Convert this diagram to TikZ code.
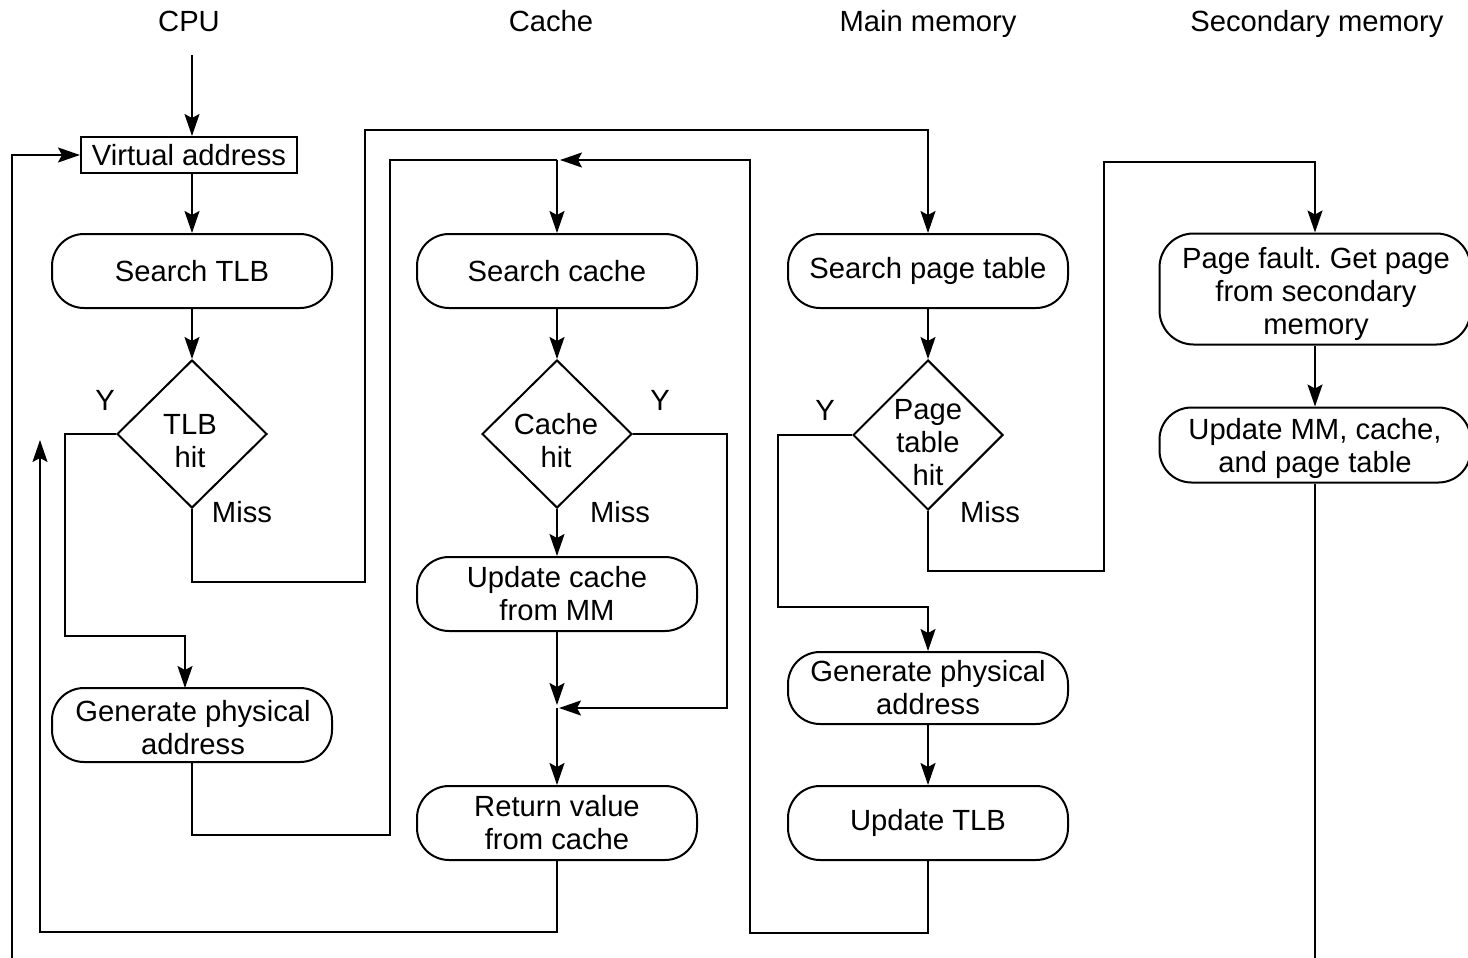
\documentclass[tikz,border=0pt]{standalone}
\usepackage{fontspec}
\setmainfont{Liberation Sans}
\usetikzlibrary{shapes.geometric,arrows.meta}
\frenchspacing
\begin{document}
\begin{tikzpicture}[x=0.5pt,y=-0.5pt,
  every node/.style={font=\fontsize{14.6}{16.5}\selectfont},
  line/.style={line width=1pt},
  arr/.style={line width=1pt,-{Stealth[length=11pt,width=7.5pt,inset=2pt]}},
  pill/.style={draw,line width=1pt,rounded corners=16pt,align=center,inner sep=0pt,minimum width=140pt,minimum height=37pt},
  dec/.style={draw,line width=1pt,diamond,inner sep=0pt,minimum width=75pt,minimum height=74pt},
  dtext/.style={align=center,inner sep=0pt},
  lbl/.style={inner sep=0pt},
  head/.style={inner sep=0pt,anchor=base}
]
\useasboundingbox (0,0) rectangle (1468,958);
% headers
\node[head] (hcpu) at (189,32) {CPU};
\node[head] (hcache) at (551,32) {Cache};
\node[head] (hmm) at (928,32) {Main memory};
\node[head] (hsec) at (1317,32) {Secondary memory};
% CPU column
\node[draw,line width=1pt,inner sep=0pt,minimum width=108pt,minimum height=18pt] (va) at (189,155) {Virtual address};
\node[pill] (stlb) at (192,271) {Search TLB};
\node[dec] (tlbhit) at (192,434) {};
\node[dtext] (tlbhitt) at (190,441) {TLB\\hit};
\node[pill] (gpa1) at (192,725) {};
\node[dtext] (gpa1t) at (193,728) {Generate physical\\address};
% Cache column
\node[pill] (scache) at (557,271) {Search cache};
\node[dec] (chit) at (557,434) {};
\node[dtext] (chitt) at (556,441) {Cache\\hit};
\node[pill] (ucache) at (557,594) {Update cache\\from MM};
\node[pill] (rval) at (557,823) {Return value\\from cache};
% Main memory column
\node[pill] (spt) at (928,271) {Search page table};
\node[dec,minimum height=75pt] (pthit) at (928,435) {};
\node[dtext] (pthitt) at (928,443) {Page\\table\\hit};
\node[pill,minimum height=36pt] (gpa2) at (928,688) {Generate physical\\address};
\node[pill] (utlb) at (928,823) {Update TLB};
% Secondary memory column
\node[pill,minimum width=155.5pt,minimum height=55.5pt,rounded corners=17pt] (pf) at (1315,289) {};
\node[dtext] (pft) at (1316,294) {Page fault. Get page\\from secondary\\memory};
\node[pill,minimum width=155.5pt,minimum height=37.5pt] (umm) at (1315,445) {};
\node[dtext] (ummt) at (1315,448.5) {Update MM, cache,\\and page table};
% labels
\node[lbl] (y1) at (105,400) {Y};
\node[lbl] (m1) at (242,512) {Miss};
\node[lbl] (y2) at (660,400) {Y};
\node[lbl] (m2) at (620,512) {Miss};
\node[lbl] (y3) at (825,410) {Y};
\node[lbl] (m3) at (990,512) {Miss};
% coordinates
\coordinate (cpustart) at (192,55);
\coordinate (lb) at (12,958);
\coordinate (rb) at (1315,958);
\coordinate (cj) at (557,160);
\coordinate (cjin) at (560,160);
\coordinate (cm) at (557,708);
\coordinate (cmin) at (559,708);
\coordinate (cmtop) at (557,705);
\coordinate (ret) at (40,440);
\coordinate (g1in) at (185,688);
% connectors
\draw[arr] (cpustart) -- (va.north -| cpustart);
\draw[arr] (lb) |- (va.west);
\draw[arr] (va.south -| stlb) -- (stlb.north);
\draw[arr] (stlb.south) -- (tlbhit.north);
\draw[arr] (tlbhit.west) -| (65,636) -| (g1in);
\draw[arr] (tlbhit.south) |- (365,582) -- (365,130) -| (spt.north);
\draw[line] (gpa1.south) |- (390,835) -- (390,160) -- (cj);
\draw[arr] (cj) -- (scache.north);
\draw[arr] (utlb.south) |- (750,933) |- (cjin);
\draw[arr] (scache.south) -- (chit.north);
\draw[arr] (chit.south) -- (ucache.north);
\draw[arr] (chit.east) -| (727,708) -- (cmin);
\draw[arr] (ucache.south) -- (cmtop);
\draw[arr] (cm) -- (rval.north);
\draw[arr] (rval.south) |- (40,932) -- (ret);
\draw[arr] (spt.south) -- (pthit.north);
\draw[arr] (pthit.west) -| (778,607) -| (gpa2.north);
\draw[arr] (gpa2.south) -- (utlb.north);
\draw[arr] (pthit.south) |- (1104,571) -- (1104,162) -| (pf.north);
\draw[arr] (pf.south) -- (umm.north);
\draw[line] (umm.south) -- (rb);
\end{tikzpicture}
\end{document}
